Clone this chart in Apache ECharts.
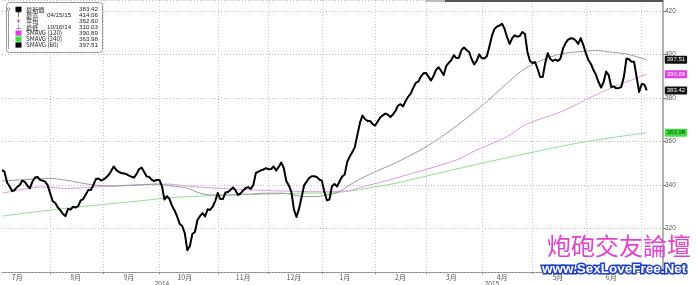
<!DOCTYPE html>
<html><head><meta charset="utf-8">
<script src="https://cdn.jsdelivr.net/npm/echarts@6/dist/echarts.min.js"></script>
<style>html,body{margin:0;padding:0;background:#fff}#c{width:696px;height:285px}</style>
</head><body><div id="c"></div>
<script>
// ---------- data ----------
const firstTradingDay = '2014-07-07';
const totalSlots = 261; // trading days shown on the axis (incl. a few empty ones at the right)
const holidays = ['2014-12-25', '2014-12-26', '2015-01-01', '2015-04-03', '2015-04-06'];

// daily close, one value per trading day from 2014-07-07 to 2015-07-03
const closePrice = [
 346.9,346.0,341.1,339.3,337.2,337.7,339.1,340.0,342.0,341.4,339.7,338.5,341.6,343.4,343.7,342.3,342.0,341.5,339.8,
 336.1,332.5,331.7,329.7,328.3,326.7,325.7,329.0,328.7,330.0,329.6,330.3,332.9,333.5,335.6,337.7,337.7,340.0,342.7,343.0,342.0,
 342.6,343.4,344.6,346.4,348.5,346.9,346.0,345.5,345.3,345.0,344.3,343.8,343.4,345.0,347.3,348.0,346.0,343.9,343.7,342.3,341.8,342.3,
 342.3,339.5,333.3,334.9,333.5,330.3,328.3,325.5,322.1,321.1,317.9,310.03,311.8,317.5,318.4,323.9,325.7,327.1,325.5,328.8,328.5,330.0,332.6,
 336.3,333.5,333.5,336.5,336.8,337.7,338.9,337.5,335.4,336.1,337.5,338.6,339.0,338.2,340.0,345.5,346.1,346.7,347.1,347.7,
 347.2,347.3,348.5,346.6,348.3,350.3,347.8,341.8,339.8,336.8,328.7,325.3,329.0,334.2,339.8,341.5,343.2,344.0,344.0,343.7,342.5,
 342.0,336.8,333.0,333.3,339.5,340.4,339.3,341.7,343.9,344.8,350.6,353.1,355.1,357.4,363.0,368.5,371.9,370.3,369.4,369.4,368.0,
 367.3,369.2,371.0,372.0,372.8,372.3,371.2,372.4,374.0,376.5,377.1,376.1,378.6,380.5,382.0,384.6,386.9,387.5,389.8,391.3,
 391.5,389.8,388.0,390.1,392.9,394.1,392.4,390.5,394.7,396.1,397.4,399.6,398.3,398.5,402.0,403.2,402.0,401.1,397.9,395.4,397.0,400.0,
 398.3,398.1,399.1,403.6,408.5,411.7,412.8,413.3,414.06,411.7,407.8,404.8,407.5,408.8,408.1,408.5,410.3,409.4,401.1,397.0,
 396.0,396.5,393.3,389.6,389.6,396.0,400.6,397.9,397.0,397.6,397.0,398.1,402.7,405.2,406.8,407.4,407.3,406.4,404.8,407.5,404.3,
 400.6,397.4,395.6,392.8,390.5,387.3,384.8,387.3,392.1,390.5,385.0,385.3,384.4,384.5,385.1,389.8,398.1,397.8,396.6,396.6,389.6,382.7,
 386.4,386.2,383.42
];

// moving averages at selected dates
const sma60 = [
 ['2014-07-07',341.8],['2014-07-16',342.3],['2014-08-01',343.0],['2014-08-12',342.0],['2014-08-25',340.2],
 ['2014-09-04',339.5],['2014-09-19',340.0],['2014-09-30',340.4],['2014-10-08',339.5],['2014-10-16',338.5],
 ['2014-10-23',336.2],['2014-10-30',335.4],['2014-11-11',335.5],['2014-11-20',335.8],['2014-11-28',336.2],
 ['2014-12-09',336.2],['2014-12-15',335.4],['2014-12-19',334.7],['2014-12-30',334.7],['2015-01-06',335.4],
 ['2015-01-12',336.4],['2015-01-19',340.0],['2015-01-23',342.7],['2015-02-03',346.6],['2015-02-12',350.1],
 ['2015-02-27',356.8],['2015-03-10',362.0],['2015-03-18',367.1],['2015-03-30',374.4],['2015-04-09',380.4],
 ['2015-04-20',387.8],['2015-04-28',393.5],['2015-05-06',397.0],['2015-05-18',400.2],['2015-05-28',401.3],
 ['2015-06-05',401.8],['2015-06-16',400.9],['2015-06-23',400.2],['2015-07-03',397.51]
];
const sma120 = [
 ['2014-07-07',336.2],['2014-07-16',337.7],['2014-07-28',339.1],['2014-08-12',338.4],['2014-08-29',339.2],
 ['2014-09-17',340.0],['2014-10-06',340.4],['2014-10-16',339.5],['2014-11-03',338.5],['2014-11-20',337.7],
 ['2014-12-09',337.2],['2014-12-30',336.9],['2015-01-19',337.4],['2015-01-23',338.8],['2015-02-12',343.1],
 ['2015-03-18',351.5],['2015-03-30',356.1],['2015-04-17',362.2],['2015-04-28',367.6],['2015-05-19',374.0],
 ['2015-06-05',381.5],['2015-06-18',386.0],['2015-07-03',390.89]
];
const sma240 = [
 ['2014-07-07',325.7],['2014-08-12',329.4],['2014-09-17',332.4],['2014-10-06',334.0],['2014-10-23',334.9],
 ['2014-11-11',335.4],['2014-11-28',335.8],['2014-12-17',336.2],['2015-01-08',336.4],['2015-01-19',337.2],
 ['2015-01-23',337.9],['2015-02-12',340.8],['2015-03-19',347.6],['2015-04-24',353.8],['2015-06-01',359.9],
 ['2015-07-03',363.98]
];

const legendRows = [
 {icon: 'square', color: '#000000', name: '最新價', date: '', value: '383.42'},
 {icon: 'T', color: '#333333', name: '最高', date: '04/15/15', value: '414.06'},
 {icon: '+', color: '#333333', name: '平均', date: '', value: '362.60'},
 {icon: '⊥', color: '#333333', name: '最低', date: '10/16/14', value: '310.03'},
 {icon: 'square', color: '#e23ee2', name: 'SMAVG (120)', date: '', value: '390.89'},
 {icon: 'square', color: '#3fe03f', name: 'SMAVG (240)', date: '', value: '363.98'},
 {icon: 'square', color: '#000000', name: 'SMAVG (60)', date: '', value: '397.51'}
];
const watermarkTitle = '炮砲交友論壇';
const watermarkUrl = 'www.SexLoveFree.Net';

// ---------- axis helpers ----------
const dates = [];
let cur = new Date(firstTradingDay + 'T00:00:00Z');
while (dates.length < totalSlots) {
  const s = cur.toISOString().slice(0, 10);
  const wd = cur.getUTCDay();
  if (wd !== 0 && wd !== 6 && holidays.indexOf(s) < 0) dates.push(s);
  cur = new Date(cur.getTime() + 86400000);
}
const monthStart = new Set();
const monthLabel = new Set();
const seenMonth = {};
const yearRange = {};
dates.forEach((s, i) => {
  const m = s.slice(0, 7);
  if (i > 0 && m !== dates[i - 1].slice(0, 7)) monthStart.add(i);
  if (!seenMonth[m] && +s.slice(8, 10) >= 15) { seenMonth[m] = true; monthLabel.add(i); }
  const y = s.slice(0, 4);
  if (!yearRange[y]) yearRange[y] = [i, i]; else yearRange[y][1] = i;
});
const yearLabel = new Set(Object.values(yearRange).map(r => Math.round((r[0] + r[1]) / 2)));

function lastVal(arr) { const v = arr[arr.length - 1]; return (Array.isArray(v) ? v[1] : v).toFixed(2); }
function tag(bg, fg, text) {
  return {show: true, formatter: text, backgroundColor: bg, color: fg, fontSize: 6, lineHeight: 7,
    padding: [1, 2, 0, 2], borderRadius: 1, distance: 0, offset: [18, 0], fontFamily: 'Liberation Sans'};
}

// ---------- graphics (legend box, top bar, watermark) ----------
const graphics = [
  {type: 'rect', shape: {x: 425, y: 0, width: 20, height: 2}, style: {fill: '#bdbdbd'}, z: 50},
  {type: 'rect', shape: {x: 445, y: 0, width: 218, height: 2}, style: {fill: '#555555'}, z: 50},
  {type: 'rect', shape: {x: 6.5, y: 2.5, width: 96, height: 50, r: 3}, style: {fill: '#ffffff', stroke: '#9a9a9a', lineWidth: 1}, z: 100},
  {type: 'line', shape: {x1: 8.5, y1: 11, x2: 8.5, y2: 49}, style: {stroke: '#999999', lineWidth: 1}, z: 101},
  {type: 'circle', shape: {cx: 8.5, cy: 9.3, r: 1.4}, style: {fill: '#fff', stroke: '#777777', lineWidth: 0.8}, z: 101}
];
legendRows.forEach((r, k) => {
  const y = 9.3 + 5.95 * k;
  if (r.icon === 'square') {
    graphics.push({type: 'rect', shape: {x: 15.5, y: y - 2.6, width: 6, height: 5.2}, style: {fill: r.color}, z: 101});
  } else {
    graphics.push({type: 'text', x: 18.5, y: y, style: {text: r.icon, fill: r.color, fontSize: 6.5, align: 'center', verticalAlign: 'middle', fontFamily: 'DejaVu Sans'}, z: 101});
  }
  graphics.push({type: 'text', x: 26, y: y, style: {text: r.name, fill: '#222', fontSize: 6.2, verticalAlign: 'middle', fontFamily: 'Noto Sans CJK TC'}, z: 101});
  if (r.date) graphics.push({type: 'text', x: 47, y: y, style: {text: r.date, fill: '#222', fontSize: 6.2, verticalAlign: 'middle', fontFamily: 'Liberation Sans'}, z: 101});
  graphics.push({type: 'text', x: 98, y: y, style: {text: r.value, fill: '#222', fontSize: 6.2, align: 'right', verticalAlign: 'middle', fontFamily: 'Liberation Sans'}, z: 101});
});
graphics.push({type: 'text', x: 547, y: 234, style: {text: watermarkTitle, fill: '#e43fd0', fontSize: 24, fontFamily: 'Noto Sans CJK TC', verticalAlign: 'top'}, z: 200});
graphics.push({type: 'text', x: 542, y: 262, style: {text: watermarkUrl, fill: '#ffffff', stroke: '#1d3fc0', lineWidth: 3, fontSize: 13.5, fontWeight: 'bold', fontFamily: 'Liberation Sans', verticalAlign: 'top'}, z: 200});

// ---------- chart ----------
const chart = echarts.init(document.getElementById('c'), null, {renderer: 'canvas'});
chart.setOption({
  animation: false,
  backgroundColor: '#ffffff',
  grid: {left: 2, right: 34, top: 0, bottom: 13, containLabel: false, outerBoundsMode: 'none'},
  xAxis: [{
    type: 'category', data: dates, boundaryGap: false,
    axisLine: {show: true, lineStyle: {color: '#8a8a8a', type: [2, 1], width: 1}},
    axisTick: {show: true, interval: (i) => monthStart.has(i), length: 2, lineStyle: {color: '#8a8a8a'}},
    splitLine: {show: true, interval: (i) => monthStart.has(i), lineStyle: {color: '#c8c8c8', type: [1, 2], width: 1}},
    axisLabel: {interval: (i) => monthLabel.has(i), formatter: (v) => (+v.slice(5, 7)) + '月',
      fontSize: 7, color: '#555', margin: 2, fontFamily: 'Noto Sans CJK SC'}
  }, {
    type: 'category', data: dates, boundaryGap: false, position: 'bottom', offset: 7,
    axisLine: {show: false}, axisTick: {show: false}, splitLine: {show: false},
    axisLabel: {interval: (i) => yearLabel.has(i), formatter: (v) => v.slice(0, 4),
      fontSize: 6.5, color: '#555', margin: 2, fontFamily: 'Liberation Sans'}
  }],
  yAxis: {
    type: 'value', position: 'right', offset: 1, min: 300, max: 425, interval: 20,
    axisLine: {show: true, lineStyle: {color: '#999', width: 1.5}},
    axisTick: {show: true, length: 3, lineStyle: {color: '#777'}},
    axisLabel: {fontSize: 6.5, color: '#555', margin: 2, showMinLabel: false, showMaxLabel: false, fontFamily: 'Liberation Sans'},
    splitLine: {show: true, lineStyle: {color: '#bbbbbb', type: [1, 2], width: 1}}
  },
  series: [
    {name: 'SMAVG (240)', type: 'line', data: sma240, symbol: 'none', smooth: 0.3, z: 2,
      lineStyle: {color: '#8fe08f', width: 1}, endLabel: tag('#3fe03f', '#0a3a0a', lastVal(sma240))},
    {name: 'SMAVG (120)', type: 'line', data: sma120, symbol: 'none', smooth: 0.3, z: 2,
      lineStyle: {color: '#dc9ce0', width: 1}, endLabel: tag('#e23ee2', '#ffffff', lastVal(sma120))},
    {name: 'SMAVG (60)', type: 'line', data: sma60, symbol: 'none', smooth: 0.3, z: 3,
      lineStyle: {color: '#9a9a9a', width: 1}, endLabel: tag('#111111', '#ffffff', lastVal(sma60))},
    {name: '最新價', type: 'line', data: closePrice, symbol: 'none', z: 5,
      lineStyle: {color: '#000000', width: 2, join: 'round'}, endLabel: tag('#111111', '#ffffff', lastVal(closePrice))}
  ],
  graphic: graphics
});
</script>
</body></html>
